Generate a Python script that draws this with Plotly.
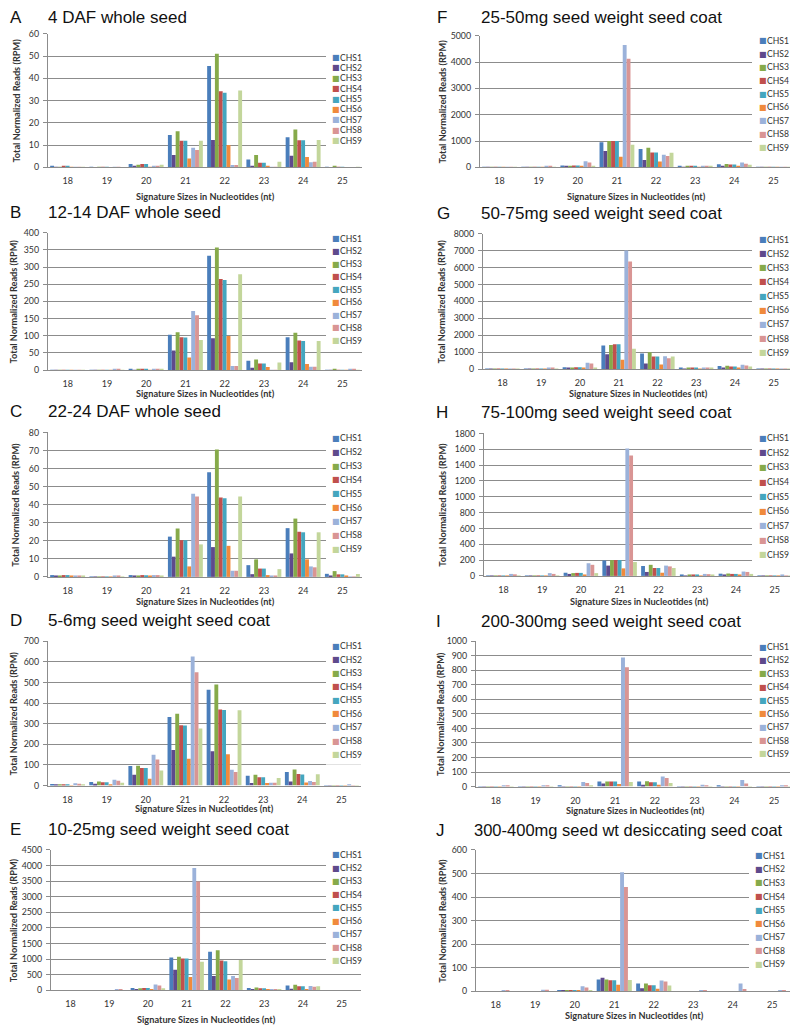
import plotly.graph_objects as go

# the page body has an 8px margin, so the figure is drawn from (8, 8)
OFF = 8
W, H = 798 - OFF, 1032 - OFF

sizes = ["18", "19", "20", "21", "22", "23", "24", "25"]
series_names = ["CHS1", "CHS2", "CHS3", "CHS4", "CHS5", "CHS6", "CHS7", "CHS8", "CHS9"]
colors = ["#4A7EBB", "#5E4A8C", "#86AA4A", "#C0504D", "#44A6BF",
          "#F08A3C", "#9BB2DA", "#D99594", "#C3D69B"]

# values per panel: rows = CHS1..CHS9, columns = sizes 18..25
A_vals = [
    [0.3, 0.1, 1.5, 14.5, 45.5, 3.5, 13.5, 0.1],
    [0.1, 0.0, 0.3, 5.5, 12.3, 0.4, 5.2, 0.0],
    [0.2, 0.1, 1.2, 16.2, 51.0, 5.6, 17.0, 0.6],
    [0.4, 0.2, 1.5, 12.0, 34.2, 2.1, 12.2, 0.1],
    [0.4, 0.1, 1.5, 12.0, 33.5, 2.1, 12.2, 0.1],
    [0.1, 0.0, 0.2, 4.0, 10.0, 0.3, 4.7, 0.0],
    [0.2, 0.1, 0.3, 8.8, 1.0, 0.2, 2.3, 0.0],
    [0.2, 0.1, 0.3, 7.8, 1.0, 0.2, 2.5, 0.0],
    [0.1, 0.0, 1.2, 12.0, 34.5, 2.5, 12.3, 0.1],
]
B_vals = [
    [0.5, 0.5, 4, 103, 333, 27, 96, 1],
    [0.2, 0.2, 1, 57, 93, 7, 23, 0.3],
    [0.4, 0.5, 3, 110, 357, 31, 109, 2],
    [0.5, 0.5, 4, 96, 265, 19, 86, 1],
    [0.5, 0.5, 4, 95, 262, 19, 85, 1],
    [0.2, 0.2, 1, 37, 99, 9, 18, 0.3],
    [0.5, 2, 3, 172, 12, 1, 10, 2],
    [0.5, 2, 3, 160, 12, 1, 10, 2],
    [0.3, 0.5, 2, 88, 279, 22, 85, 1],
]
C_vals = [
    [1.0, 0.2, 1.0, 22.3, 58.0, 6.5, 27.0, 1.7],
    [0.3, 0.1, 0.8, 11.2, 16.5, 1.5, 13.0, 0.3],
    [0.5, 0.2, 0.7, 26.8, 70.5, 9.7, 32.3, 3.2],
    [1.0, 0.2, 1.0, 20.3, 44.0, 4.6, 25.0, 1.4],
    [1.0, 0.2, 0.9, 20.3, 43.5, 4.6, 24.7, 1.4],
    [0.3, 0.1, 0.5, 5.8, 17.2, 1.0, 9.7, 0.3],
    [0.3, 0.8, 1.0, 46.0, 3.4, 0.5, 5.8, 0.1],
    [0.7, 0.8, 1.0, 44.5, 3.4, 0.5, 5.3, 0.1],
    [0.5, 0.2, 0.3, 18.0, 44.5, 4.3, 24.7, 1.6],
]
D_vals = [
    [8, 18, 95, 333, 465, 48, 66, 1],
    [4, 9, 53, 173, 167, 13, 20, 0.5],
    [7, 20, 96, 348, 490, 53, 78, 2],
    [7, 16, 85, 293, 369, 40, 56, 1],
    [7, 16, 85, 291, 367, 40, 54, 1],
    [2, 5, 33, 130, 152, 13, 15, 0.5],
    [12, 28, 150, 626, 77, 14, 22, 3],
    [9, 24, 127, 549, 66, 14, 17, 1],
    [5, 14, 73, 277, 365, 37, 55, 1],
]
E_vals = [
    [5, 5, 80, 1050, 1240, 80, 160, 5],
    [3, 3, 40, 660, 460, 25, 50, 2],
    [5, 5, 70, 1080, 1290, 90, 180, 5],
    [5, 5, 75, 1020, 960, 70, 130, 5],
    [5, 5, 75, 1020, 930, 65, 130, 5],
    [2, 2, 30, 430, 350, 25, 40, 2],
    [5, 20, 190, 3920, 460, 40, 140, 5],
    [5, 20, 160, 3490, 400, 35, 120, 5],
    [5, 5, 65, 920, 970, 45, 130, 5],
]
F_vals = [
    [5, 10, 70, 950, 700, 50, 120, 5],
    [3, 5, 40, 620, 280, 20, 40, 2],
    [5, 10, 60, 1000, 740, 50, 130, 5],
    [5, 10, 70, 1000, 560, 40, 110, 5],
    [5, 10, 70, 1000, 560, 40, 110, 5],
    [2, 5, 30, 400, 220, 15, 30, 2],
    [5, 40, 230, 4650, 480, 40, 180, 5],
    [5, 30, 180, 4130, 430, 40, 140, 5],
    [5, 10, 60, 860, 550, 30, 100, 5],
]
G_vals = [
    [10, 20, 110, 1400, 930, 60, 180, 10],
    [5, 10, 60, 880, 340, 20, 60, 5],
    [10, 20, 100, 1430, 1000, 70, 200, 10],
    [10, 20, 110, 1470, 750, 60, 150, 10],
    [10, 20, 110, 1470, 750, 60, 150, 10],
    [5, 10, 40, 560, 270, 20, 50, 5],
    [10, 80, 380, 7000, 760, 80, 260, 10],
    [10, 70, 330, 6350, 650, 70, 210, 10],
    [10, 20, 90, 1200, 750, 40, 150, 10],
]
H_vals = [
    [5, 5, 40, 195, 125, 10, 28, 2],
    [3, 3, 25, 130, 50, 5, 10, 1],
    [3, 3, 35, 200, 140, 12, 30, 2],
    [3, 3, 38, 200, 100, 8, 25, 2],
    [3, 3, 38, 200, 100, 8, 25, 2],
    [2, 2, 12, 95, 40, 3, 8, 1],
    [25, 35, 160, 1610, 130, 25, 55, 8],
    [20, 25, 140, 1520, 120, 22, 50, 5],
    [3, 3, 35, 175, 100, 8, 25, 2],
]
I_vals = [
    [1, 1, 3, 35, 35, 1, 3, 1],
    [0.5, 0.5, 1, 22, 12, 0.5, 1, 0.5],
    [1, 1, 2, 35, 37, 1, 2, 1],
    [1, 1, 2, 35, 30, 1, 2, 1],
    [1, 1, 2, 35, 30, 1, 2, 1],
    [0.5, 0.5, 1, 18, 12, 0.5, 2, 0.5],
    [8, 10, 32, 888, 70, 12, 45, 5],
    [6, 8, 25, 820, 60, 8, 22, 3],
    [1, 1, 3, 32, 25, 1, 2, 1],
]
J_vals = [
    [1, 1, 4, 50, 33, 1, 1, 1],
    [0.5, 0.5, 3, 58, 13, 0.5, 0.5, 0.5],
    [1, 1, 4, 50, 33, 1, 1, 1],
    [1, 1, 4, 47, 26, 1, 1, 1],
    [1, 1, 4, 47, 26, 1, 1, 1],
    [0.5, 0.5, 2, 28, 11, 0.5, 0.5, 0.5],
    [5, 7, 22, 505, 46, 6, 33, 4],
    [4, 7, 17, 443, 42, 4, 10, 2],
    [1, 1, 3, 48, 25, 1, 1, 1],
]

panel_letters = ["A", "B", "C", "D", "E", "F", "G", "H", "I", "J"]
panel_titles = [
    "4 DAF whole seed",
    "12-14 DAF whole seed",
    "22-24 DAF whole seed",
    "5-6mg seed weight seed coat",
    "10-25mg seed weight seed coat",
    "25-50mg seed weight seed coat",
    "50-75mg seed weight seed coat",
    "75-100mg seed weight seed coat",
    "200-300mg seed weight seed coat",
    "300-400mg seed wt desiccating seed coat",
]
panel_values = [A_vals, B_vals, C_vals, D_vals, E_vals, F_vals, G_vals, H_vals, I_vals, J_vals]
y_max = [60, 400, 80, 700, 4500, 5000, 8000, 1800, 1000, 600]
y_step = [10, 50, 10, 100, 500, 1000, 1000, 200, 100, 100]
x_title_text = "Signature Sizes in Nucleotides (nt)"
y_title_text = "Total Normalized Reads (RPM)"

# layout geometry in screen pixels: (x0, x1, ytop, ybottom)
geo = [
    (48, 362, 28, 163),
    (48, 362, 229, 368),
    (48, 362, 431, 577),
    (48, 361, 642, 788),
    (51, 361, 853, 995),
    (480, 793, 30, 163),
    (483, 793, 230, 367),
    (484, 794, 432, 576),
    (476, 794, 642, 789),
    (476, 792, 853, 996),
]
title_y = [12, 209, 410, 621, 832, 12, 210, 411, 622, 833]
title_x = [48, 48, 48, 48, 48, 481, 481, 481, 481, 474]
title_size = [17, 17, 17, 17, 17, 17, 17, 17, 17, 16.5]
letter_x = [5, 5, 5, 5, 5, 437, 437, 436, 436, 436]
ytitle_x = [17, 13, 16, 13, 13, 443, 441, 443, 441, 443]
xtitle_y = [192, 392, 602, 811, 1024, 192, 392, 602, 813, 1020]
legend_first = [52, 235, 437, 647, 858, 35, 236, 437, 648, 859]
legend_step = [10.5, 12.9, 14.0, 13.7, 13.4, 13.5, 14.3, 14.7, 13.5, 13.7]

TICK_FONT = "Lato, 'Open Sans', sans-serif"
TITLE_FONT = "'Liberation Sans', Arial, sans-serif"
GRID = "#8C8C8C"
TXT = "#333333"
PAD = 2  # annotation box padding in px

fig = go.Figure()
layout = dict(
    width=W, height=H,
    margin=dict(l=0, r=0, t=0, b=0),
    paper_bgcolor="white", plot_bgcolor="white",
    showlegend=False,
    barmode="group", bargap=0.11, bargroupgap=0.0,
    annotations=[], shapes=[],
)


def px_x(p):
    return (p - OFF) / W


def px_y(p):
    return 1 - (p - OFF) / H


def note(text, x, y, size, family, color=TXT, xanchor="left", angle=0):
    layout["annotations"].append(dict(
        text=text, xref="paper", yref="paper", x=x, y=y,
        xanchor=xanchor, yanchor="middle", showarrow=False, textangle=angle,
        font=dict(family=family, size=size, color=color),
    ))


for i in range(10):
    k = "" if i == 0 else str(i + 1)
    x0, x1, yt, yb = geo[i]
    left = x0 < 400
    for s in range(9):
        fig.add_trace(go.Bar(
            x=sizes, y=panel_values[i][s], name=series_names[s],
            marker=dict(color=colors[s], line=dict(width=0)),
            xaxis="x" + k, yaxis="y" + k,
        ))
    layout["xaxis" + k] = dict(
        domain=[px_x(x0), min(px_x(x1), 1.0)], anchor="y" + k,
        type="category", showgrid=False, showline=True, linecolor=GRID, linewidth=1.3,
        ticks="", ticklabelstandoff=5,
        tickfont=dict(family=TICK_FONT, size=9, color=TXT),
        fixedrange=True,
    )
    layout["yaxis" + k] = dict(
        domain=[px_y(yb), px_y(yt)], anchor="x" + k,
        range=[0, y_max[i]], dtick=y_step[i], tick0=0,
        showgrid=True, gridcolor=GRID, gridwidth=1.3,
        showline=True, linecolor=GRID, linewidth=1.3,
        ticks="outside", ticklen=4, tickcolor=GRID, tickwidth=1,
        ticklabelstandoff=2,
        tickfont=dict(family=TICK_FONT, size=8.8, color=TXT),
        zeroline=False, fixedrange=True,
    )
    # axis titles
    note("<b>%s</b>" % x_title_text, px_x((x0 + x1) / 2), px_y(xtitle_y[i]),
         9.2, TICK_FONT, xanchor="center")
    note("<b>%s</b>" % y_title_text, px_x(ytitle_x[i]), px_y((yt + yb) / 2),
         9.2, TICK_FONT, xanchor="center", angle=-90)
    # panel letter and title
    note(panel_letters[i], max(px_x(letter_x[i] - PAD), 0), px_y(title_y[i]),
         17, TITLE_FONT, color="#111111")
    note(panel_titles[i], px_x(title_x[i] - PAD), px_y(title_y[i]),
         title_size[i], TITLE_FONT, color="#111111")
    # legend background covering grid lines
    lx = 326 if left else (752 if i < 9 else 749)
    ly0 = legend_first[i] - legend_step[i] * 0.75
    ly1 = legend_first[i] + legend_step[i] * 8.75
    layout["shapes"].append(dict(
        type="rect", xref="paper", yref="paper", layer="above",
        x0=px_x(lx), x1=min(px_x(lx + 48), 1.0), y0=px_y(ly1), y1=px_y(ly0),
        fillcolor="white", line=dict(width=0),
    ))
    sq_x = 333 if left else (760 if i < 9 else 756)
    for s in range(9):
        yy = legend_first[i] + legend_step[i] * s
        note("■", px_x(sq_x - PAD - 1), px_y(yy), 8, "DejaVu Sans", color=colors[s])
        note(series_names[s], px_x(sq_x + 7 - PAD), px_y(yy), 8.6, TICK_FONT)

fig.update_layout(**layout)
fig.write_html("out.html")
